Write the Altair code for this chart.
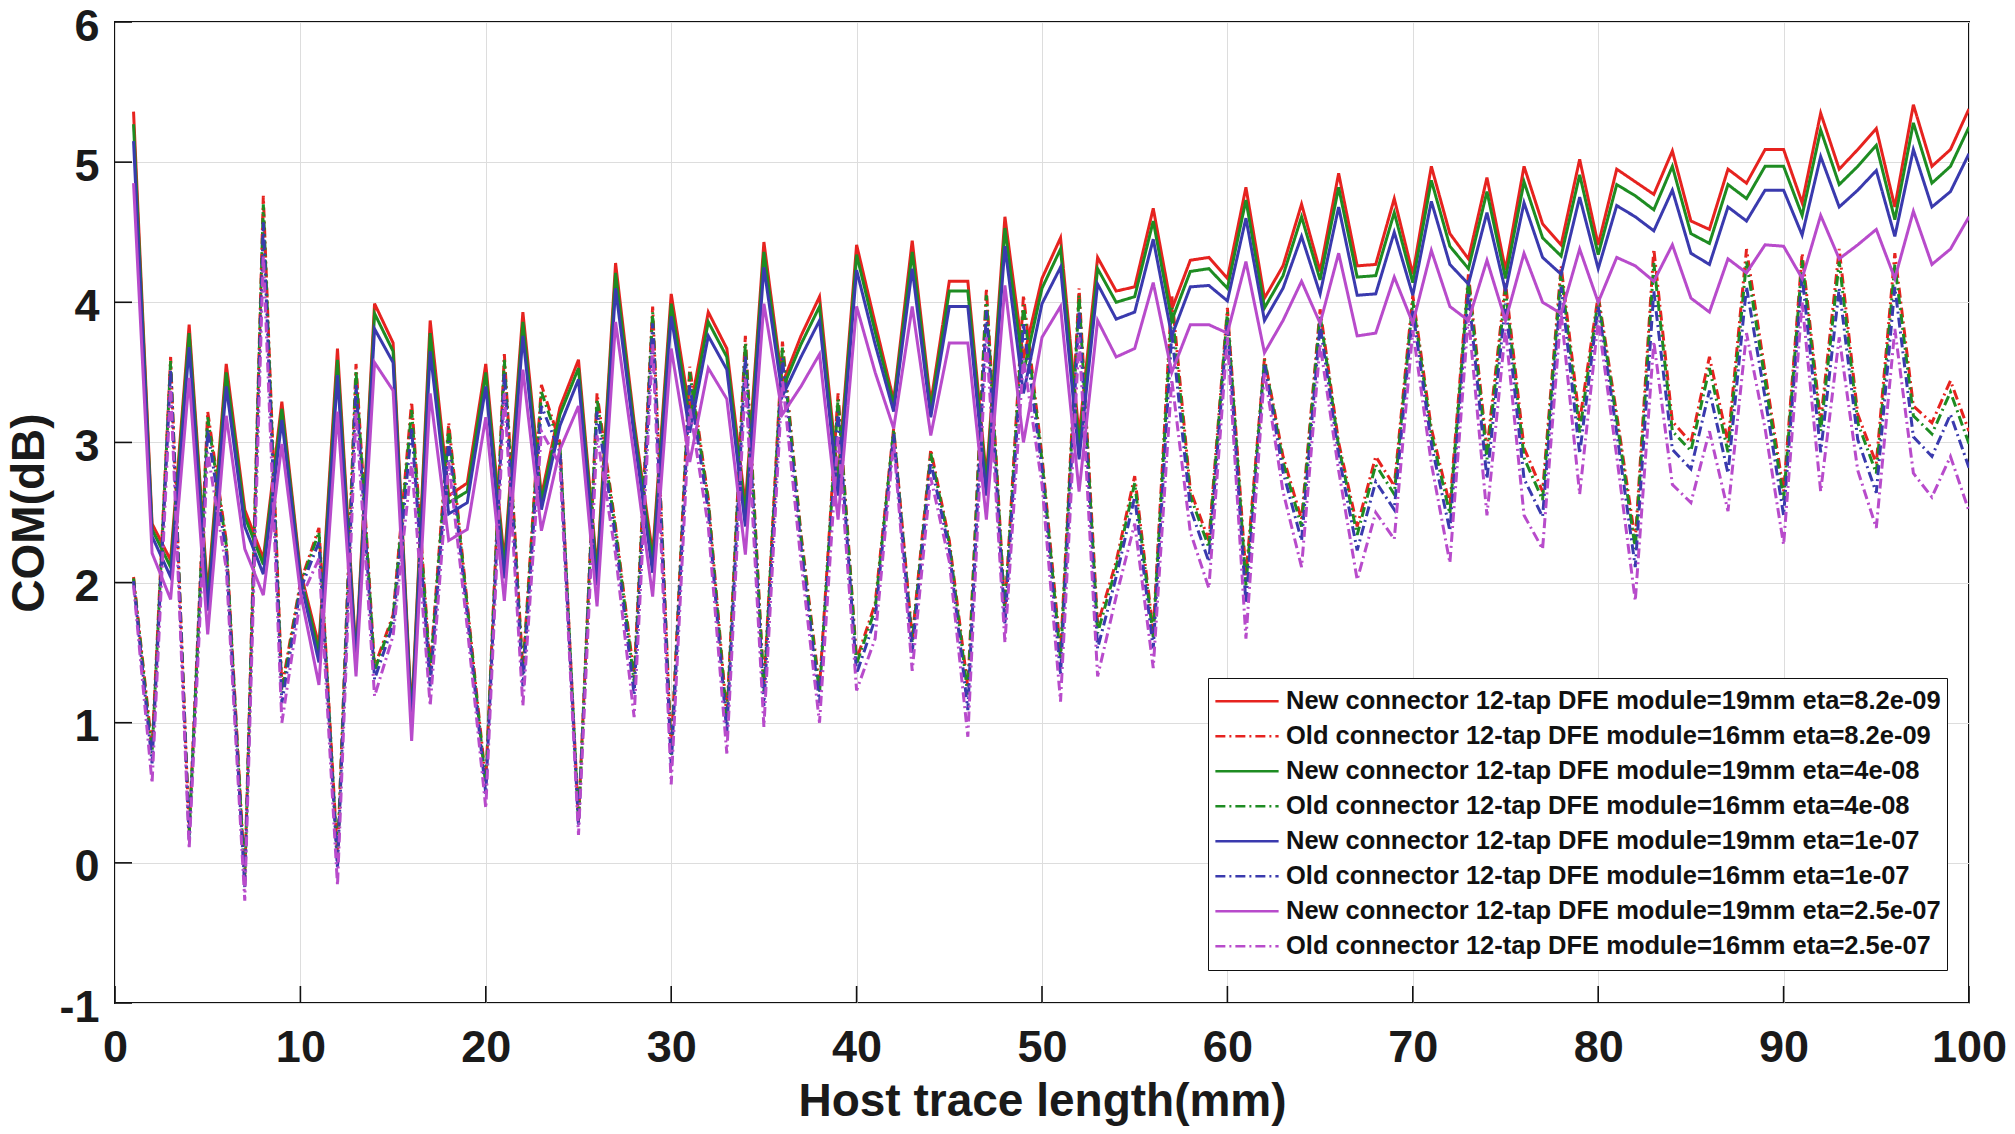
import altair as alt
import pandas as pd

x_mm = list(range(1, 101))

new_82e9 = [5.36, 2.42, 2.16, 3.84, 1.92, 3.56, 2.52, 2.17, 3.29, 2.08,
            1.55, 3.67, 1.48, 3.99, 3.71, 1.05, 3.87, 2.62, 2.71, 3.56,
            2.15, 3.93, 2.62, 3.25, 3.59, 2.09, 4.28, 3.15, 2.20, 4.06,
            3.22, 3.93, 3.67, 2.55, 4.43, 3.42, 3.76, 4.04, 2.75, 4.41,
            3.85, 3.30, 4.44, 3.28, 4.15, 4.15, 2.75, 4.61, 3.60, 4.17,
            4.46, 3.05, 4.32, 4.08, 4.11, 4.67, 3.95, 4.30, 4.32, 4.17,
            4.82, 4.03, 4.26, 4.70, 4.22, 4.92, 4.26, 4.27, 4.74, 4.20,
            4.97, 4.49, 4.31, 4.89, 4.23, 4.97, 4.56, 4.41, 5.02, 4.41,
            4.95, 4.86, 4.77, 5.08, 4.58, 4.52, 4.95, 4.85, 5.09, 5.09,
            4.71, 5.35, 4.95, 5.09, 5.24, 4.68, 5.41, 4.97, 5.09, 5.38]

new_4e8 = [5.27, 2.38, 2.11, 3.78, 1.87, 3.50, 2.47, 2.13, 3.24, 2.05,
           1.50, 3.59, 1.45, 3.92, 3.65, 1.02, 3.78, 2.57, 2.65, 3.50,
           2.10, 3.86, 2.58, 3.20, 3.53, 2.05, 4.21, 3.11, 2.15, 3.99,
           3.16, 3.86, 3.61, 2.49, 4.36, 3.38, 3.70, 3.97, 2.70, 4.34,
           3.79, 3.27, 4.36, 3.24, 4.08, 4.08, 2.70, 4.53, 3.50, 4.10,
           4.38, 2.98, 4.24, 4.00, 4.04, 4.58, 3.87, 4.22, 4.24, 4.10,
           4.73, 3.96, 4.19, 4.61, 4.16, 4.82, 4.18, 4.19, 4.64, 4.14,
           4.87, 4.40, 4.24, 4.79, 4.17, 4.86, 4.46, 4.33, 4.91, 4.34,
           4.84, 4.76, 4.66, 4.97, 4.49, 4.42, 4.84, 4.74, 4.97, 4.97,
           4.62, 5.23, 4.84, 4.97, 5.12, 4.59, 5.28, 4.85, 4.97, 5.25]

new_1e7 = [5.15, 2.33, 2.04, 3.68, 1.80, 3.40, 2.40, 2.06, 3.16, 2.02,
           1.43, 3.48, 1.42, 3.81, 3.57, 0.97, 3.65, 2.49, 2.57, 3.40,
           2.03, 3.76, 2.52, 3.12, 3.45, 1.98, 4.10, 3.05, 2.07, 3.90,
           3.07, 3.76, 3.52, 2.40, 4.25, 3.33, 3.61, 3.87, 2.62, 4.23,
           3.70, 3.22, 4.24, 3.18, 3.97, 3.97, 2.62, 4.40, 3.35, 3.99,
           4.25, 2.88, 4.13, 3.88, 3.93, 4.45, 3.76, 4.11, 4.12, 4.01,
           4.60, 3.87, 4.10, 4.47, 4.06, 4.68, 4.05, 4.06, 4.50, 4.05,
           4.72, 4.27, 4.13, 4.64, 4.08, 4.71, 4.32, 4.20, 4.75, 4.24,
           4.69, 4.61, 4.51, 4.80, 4.35, 4.27, 4.68, 4.58, 4.80, 4.80,
           4.48, 5.04, 4.68, 4.80, 4.94, 4.47, 5.09, 4.68, 4.79, 5.06]

new_25e7 = [4.85, 2.21, 1.88, 3.46, 1.63, 3.19, 2.24, 1.91, 2.99, 1.93,
            1.27, 3.22, 1.33, 3.57, 3.37, 0.87, 3.35, 2.30, 2.38, 3.18,
            1.87, 3.52, 2.37, 2.95, 3.26, 1.83, 3.86, 2.90, 1.90, 3.67,
            2.86, 3.53, 3.31, 2.20, 3.99, 3.20, 3.40, 3.63, 2.45, 3.97,
            3.50, 3.10, 3.97, 3.05, 3.71, 3.71, 2.45, 4.12, 3.00, 3.75,
            3.97, 2.65, 3.87, 3.61, 3.67, 4.14, 3.50, 3.84, 3.84, 3.78,
            4.29, 3.64, 3.87, 4.15, 3.85, 4.35, 3.76, 3.78, 4.18, 3.85,
            4.37, 3.97, 3.87, 4.30, 3.87, 4.35, 4.00, 3.92, 4.38, 4.00,
            4.32, 4.26, 4.15, 4.41, 4.03, 3.93, 4.31, 4.21, 4.41, 4.40,
            4.17, 4.62, 4.31, 4.41, 4.52, 4.17, 4.65, 4.27, 4.38, 4.61]

old_82e9 = [2.04, 0.82, 3.61, 0.22, 3.22, 2.30, -0.10, 4.76, 1.25, 2.00,
            2.39, 0.05, 3.56, 1.40, 1.77, 3.29, 1.38, 3.14, 1.85, 0.58,
            3.63, 1.38, 3.41, 3.00, 0.30, 3.35, 2.40, 1.33, 3.97, 0.80,
            3.54, 2.60, 1.05, 3.76, 1.25, 3.72, 2.35, 1.25, 3.35, 1.45,
            1.85, 3.10, 1.60, 2.95, 2.30, 1.25, 4.10, 1.80, 4.05, 2.90,
            1.50, 4.10, 1.70, 2.15, 2.76, 1.65, 4.05, 2.66, 2.30, 3.96,
            2.05, 3.60, 2.90, 2.45, 3.95, 3.00, 2.40, 2.90, 2.69, 4.05,
            3.10, 2.55, 4.20, 2.95, 4.14, 2.96, 2.65, 4.26, 3.15, 4.05,
            3.20, 2.30, 4.38, 3.15, 3.00, 3.61, 3.00, 4.38, 3.50, 2.65,
            4.35, 3.15, 4.38, 3.20, 2.85, 4.35, 3.26, 3.14, 3.44, 3.08]

old_4e8 = [2.03, 0.78, 3.58, 0.20, 3.18, 2.27, -0.13, 4.70, 1.21, 1.98,
           2.36, 0.02, 3.51, 1.37, 1.75, 3.23, 1.34, 3.10, 1.82, 0.55,
           3.59, 1.34, 3.36, 2.98, 0.29, 3.31, 2.37, 1.29, 3.93, 0.76,
           3.50, 2.57, 1.01, 3.71, 1.21, 3.68, 2.32, 1.21, 3.31, 1.42,
           1.81, 3.09, 1.57, 2.92, 2.28, 1.20, 4.05, 1.77, 3.98, 2.87,
           1.45, 4.05, 1.64, 2.11, 2.71, 1.61, 3.96, 2.62, 2.25, 3.93,
           1.98, 3.59, 2.86, 2.40, 3.91, 2.97, 2.34, 2.84, 2.63, 4.01,
           3.06, 2.49, 4.16, 2.88, 4.09, 2.89, 2.59, 4.21, 3.07, 4.02,
           3.16, 2.24, 4.28, 3.08, 2.94, 3.53, 2.93, 4.29, 3.44, 2.59,
           4.30, 3.08, 4.29, 3.14, 2.78, 4.27, 3.19, 3.06, 3.36, 2.99]

old_1e7 = [2.01, 0.71, 3.52, 0.17, 3.09, 2.21, -0.18, 4.57, 1.14, 1.95,
           2.29, -0.04, 3.41, 1.31, 1.70, 3.10, 1.26, 3.01, 1.77, 0.49,
           3.50, 1.26, 3.26, 2.93, 0.26, 3.22, 2.31, 1.20, 3.85, 0.69,
           3.41, 2.51, 0.93, 3.62, 1.12, 3.60, 2.26, 1.14, 3.22, 1.35,
           1.74, 3.06, 1.50, 2.86, 2.23, 1.09, 3.94, 1.70, 3.85, 2.81,
           1.34, 3.94, 1.53, 2.04, 2.61, 1.53, 3.78, 2.53, 2.15, 3.87,
           1.85, 3.56, 2.79, 2.30, 3.84, 2.91, 2.23, 2.72, 2.52, 3.94,
           2.99, 2.37, 4.07, 2.74, 3.99, 2.74, 2.47, 4.11, 2.92, 3.97,
           3.07, 2.11, 4.08, 2.95, 2.81, 3.37, 2.78, 4.11, 3.32, 2.48,
           4.19, 2.93, 4.10, 3.02, 2.64, 4.11, 3.04, 2.90, 3.20, 2.82]

old_25e7 = [1.98, 0.57, 3.40, 0.10, 2.93, 2.10, -0.27, 4.34, 1.00, 1.88,
            2.17, -0.16, 3.22, 1.19, 1.62, 2.86, 1.12, 2.86, 1.68, 0.39,
            3.35, 1.12, 3.08, 2.84, 0.20, 3.05, 2.20, 1.04, 3.70, 0.56,
            3.25, 2.40, 0.78, 3.45, 0.97, 3.45, 2.15, 1.00, 3.05, 1.23,
            1.60, 3.00, 1.37, 2.75, 2.15, 0.90, 3.75, 1.57, 3.60, 2.70,
            1.15, 3.75, 1.33, 1.90, 2.42, 1.39, 3.45, 2.36, 1.96, 3.75,
            1.60, 3.50, 2.65, 2.11, 3.70, 2.80, 2.02, 2.50, 2.31, 3.80,
            2.85, 2.14, 3.90, 2.48, 3.81, 2.48, 2.24, 3.93, 2.63, 3.87,
            2.90, 1.87, 3.72, 2.70, 2.57, 3.08, 2.51, 3.78, 3.10, 2.27,
            4.00, 2.65, 3.75, 2.80, 2.39, 3.81, 2.78, 2.61, 2.90, 2.51]

series_labels = [
    "New connector 12-tap DFE module=19mm eta=8.2e-09",
    "Old connector 12-tap DFE module=16mm eta=8.2e-09",
    "New connector 12-tap DFE module=19mm eta=4e-08",
    "Old connector 12-tap DFE module=16mm eta=4e-08",
    "New connector 12-tap DFE module=19mm eta=1e-07",
    "Old connector 12-tap DFE module=16mm eta=1e-07",
    "New connector 12-tap DFE module=19mm eta=2.5e-07",
    "Old connector 12-tap DFE module=16mm eta=2.5e-07",
]
series_values = [new_82e9, old_82e9, new_4e8, old_4e8,
                 new_1e7, old_1e7, new_25e7, old_25e7]
series_colors = ["#E6231F", "#E6231F", "#1E8C22", "#1E8C22",
                 "#3A3AAE", "#3A3AAE", "#B84BCB", "#B84BCB"]
series_dashes = [[1, 0], [10, 4, 2, 4], [1, 0], [10, 4, 2, 4],
                 [1, 0], [10, 4, 2, 4], [1, 0], [10, 4, 2, 4]]

x_ticks = list(range(0, 101, 10))
y_ticks = list(range(-1, 7))

for vals in series_values:
    assert len(vals) == len(x_mm)

rows = []
for k, (lab, vals) in enumerate(zip(series_labels, series_values)):
    for xv, v in zip(x_mm, vals):
        rows.append({"x": xv, "value": v, "series": lab, "k": k})
df = pd.DataFrame(rows)

FONT = "Liberation Sans"
W, H = 1854, 981
TOP = 14

legend = alt.Legend(orient="none", legendX=1093, legendY=678 - 8 - TOP, title=None)

lines = alt.Chart(df).mark_line(strokeWidth=3.0, clip=True).encode(
    x=alt.X("x:Q",
            scale=alt.Scale(domain=[0, 100], nice=False, zero=False),
            axis=alt.Axis(values=x_ticks, title="Host trace length(mm)",
                          labelPadding=22, titlePadding=9,
                          labelExpr="'' + datum.value")),
    y=alt.Y("value:Q",
            scale=alt.Scale(domain=[-1, 6], nice=False, zero=False),
            axis=alt.Axis(values=y_ticks, title="COM(dB)",
                          labelPadding=16, labelOffset=4,
                          titleX=-72, titleY=H / 2, titleBaseline="alphabetic",
                          labelExpr="'' + datum.value")),
    color=alt.Color("series:N",
                    scale=alt.Scale(domain=series_labels, range=series_colors),
                    legend=legend),
    strokeDash=alt.StrokeDash("series:N",
                              scale=alt.Scale(domain=series_labels, range=series_dashes),
                              legend=legend),
    order=alt.Order("k:Q"),
)

xt = pd.DataFrame({"x": x_ticks})
yt = pd.DataFrame({"value": y_ticks})

xtick_marks = alt.Chart(xt).mark_rule(color="#111111", strokeWidth=1.6).encode(
    x="x:Q", y=alt.value(H - 17), y2=alt.value(H))
ytick_marks = alt.Chart(yt).mark_rule(color="#111111", strokeWidth=1.6).encode(
    y="value:Q", x=alt.value(0), x2=alt.value(17))

chart = alt.layer(lines, xtick_marks, ytick_marks).properties(
    width=W, height=H,
    padding={"left": 107, "top": TOP, "right": 38, "bottom": 1118 - TOP - H},
    autosize=alt.AutoSizeParams(type="none"),
).configure_view(
    stroke="#111111", strokeWidth=2
).configure_axis(
    grid=True, gridColor="#DDDDDD", gridWidth=1,
    domain=False, ticks=False,
    labelFont=FONT, labelFontSize=45, labelFontWeight="bold", labelColor="#1a1a1a",
    titleFont=FONT, titleFontSize=46, titleFontWeight="bold", titleColor="#1a1a1a",
    labelFlush=False, labelOverlap=False,
).configure_legend(
    labelFont=FONT, labelFontSize=25.5, labelFontWeight="bold", labelColor="#111111",
    symbolType="stroke", symbolSize=4000, symbolStrokeWidth=2.6,
    strokeColor="#111111", fillColor="white", padding=6, rowPadding=0,
    clipHeight=34.5, labelLimit=0, labelOffset=6,
)

chart.save("out.html", embed_options={"renderer": "svg", "actions": False})
